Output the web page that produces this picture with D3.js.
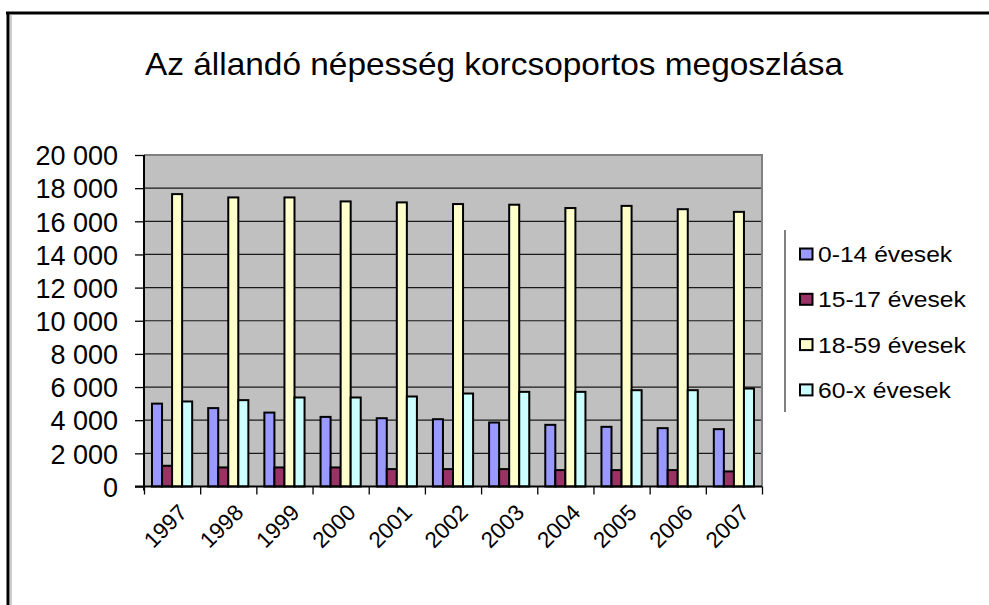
<!DOCTYPE html>
<html>
<head>
<meta charset="utf-8">
<script src="https://cdn.jsdelivr.net/npm/d3@7"></script>
<style>
  body { margin: 0; background: #fff; }
  svg { display: block; }
  text { font-family: "Liberation Sans", Arial, sans-serif; fill: #000; }
</style>
</head>
<body>
<svg id="chart" width="989" height="605"></svg>
<script>
// ---- data ----
const years = ["1997","1998","1999","2000","2001","2002","2003","2004","2005","2006","2007"];
const seriesNames = ["0-14 évesek","15-17 évesek","18-59 évesek","60-x évesek"];
const age0_14  = [5000, 4730, 4460, 4200, 4120, 4060, 3860, 3720, 3600, 3520, 3460];
const age15_17 = [1250, 1150, 1150, 1150, 1050, 1050, 1050,  990,  990,  990,  910];
const age18_59 = [17640,17440,17440,17200,17140,17040,17000,16800,16930,16730,16570];
const age60x   = [5130, 5210, 5370, 5370, 5430, 5610, 5710, 5710, 5810, 5810, 5910];
const yTicks = [0,2000,4000,6000,8000,10000,12000,14000,16000,18000,20000];
const colors = ["#9999FF","#993366","#FFFFCC","#CCFFFF"];
const titleText = "Az állandó népesség korcsoportos megoszlása";

const seriesValues = [age0_14, age15_17, age18_59, age60x];

const svg = d3.select("#chart");

// outer frame
svg.append("line").attr("x1",6).attr("x2",989).attr("y1",13).attr("y2",13)
  .attr("stroke","#000").attr("stroke-width",3);
svg.append("line").attr("x1",8).attr("x2",8).attr("y1",12).attr("y2",605)
  .attr("stroke","#000").attr("stroke-width",3);
svg.append("line").attr("x1",11).attr("x2",11).attr("y1",14).attr("y2",605)
  .attr("stroke","#999").attr("stroke-width",1);

// title
svg.append("text")
  .attr("x",145).attr("y",75)
  .attr("font-size",32)
  .attr("textLength",698).attr("lengthAdjust","spacingAndGlyphs")
  .text(titleText);

// scales
const pL = 144, pR = 762, pT = 155, pB = 486.5;
const x0 = d3.scaleBand().domain(years).range([pL,pR]).paddingInner(0.285).paddingOuter(0.1425);
const x1 = d3.scaleBand().domain(d3.range(seriesNames.length)).range([0,x0.bandwidth()]);
const y = d3.scaleLinear().domain([0,20000]).range([pB,pT]);
const bound = d3.scaleLinear().domain([0,years.length]).range([pL,pR]);

// plot background
svg.append("rect").attr("x",pL).attr("y",pT).attr("width",pR-pL).attr("height",pB-pT)
  .attr("fill","#C0C0C0");

// gridlines
svg.append("g").selectAll("line").data(yTicks.filter(d => d>0 && d<20000)).join("line")
  .attr("x1",pL).attr("x2",pR).attr("y1",d=>y(d)).attr("y2",d=>y(d))
  .attr("stroke","#1a1a1a").attr("stroke-width",1.2);

// plot border top/right
svg.append("path").attr("d",`M${pL},${pT}H${pR}V${pB}`)
  .attr("fill","none").attr("stroke","#808080").attr("stroke-width",2);

// bars
const groups = svg.append("g").selectAll("g").data(years).join("g")
  .attr("transform", d => `translate(${x0(d)},0)`);
groups.selectAll("rect").data((d,i) => seriesValues.map((s,k) => ({k, v: s[i]}))).join("rect")
  .attr("x", d => x1(d.k))
  .attr("width", x1.bandwidth())
  .attr("y", d => y(d.v))
  .attr("height", d => y(0) - y(d.v))
  .attr("fill", d => colors[d.k])
  .attr("stroke","#000").attr("stroke-width",2);

// y axis
const fmt = d3.formatLocale({decimal:",", thousands:" ", grouping:[3], currency:["",""]}).format(",d");
const yAxis = svg.append("g").attr("transform",`translate(${pL},0)`)
  .call(d3.axisLeft(y).tickValues(yTicks).tickSize(9).tickPadding(17).tickFormat(fmt));
yAxis.select(".domain").attr("stroke","#000").attr("stroke-width",2).attr("d",`M0,${pT}V${pB+4}`);
yAxis.selectAll(".tick line").attr("stroke","#000").attr("stroke-width",1.3);
yAxis.selectAll(".tick text").attr("font-size",27).attr("font-family",'"Liberation Sans", Arial, sans-serif').attr("dy","0.36em");

// x axis
const xAxis = svg.append("g").attr("transform",`translate(0,${pB})`)
  .call(d3.axisBottom(bound).tickValues(d3.range(years.length+1)).tickSize(8).tickFormat(""));
xAxis.select(".domain").attr("stroke","#000").attr("stroke-width",2).attr("d",`M${pL-9},0H${pR}`);
xAxis.selectAll(".tick line").attr("stroke","#000").attr("stroke-width",1.3);

// year labels
svg.append("g").selectAll("text").data(years).join("text")
  .attr("transform", d => `translate(${x0(d)+x0.bandwidth()/2+5},${pB+16}) rotate(-45)`)
  .attr("text-anchor","end").attr("dy","0.72em")
  .attr("font-size",22.5)
  .text(d => d);

// legend
const lg = svg.append("g");
lg.append("line").attr("x1",785).attr("x2",785).attr("y1",230).attr("y2",412)
  .attr("stroke","#000").attr("stroke-width",1);
const items = lg.selectAll("g").data(seriesNames).join("g")
  .attr("transform",(d,i) => `translate(0,${254 + i*45.3})`);
items.append("rect").attr("x",800).attr("y",-5.5).attr("width",12.5).attr("height",11)
  .attr("fill",(d,i)=>colors[i]).attr("stroke","#000").attr("stroke-width",2);
items.append("text")
  .attr("transform","translate(818,0) scale(1.12,1)")
  .attr("dy","0.36em").attr("font-size",22)
  .text(d => d);
</script>
</body>
</html>
